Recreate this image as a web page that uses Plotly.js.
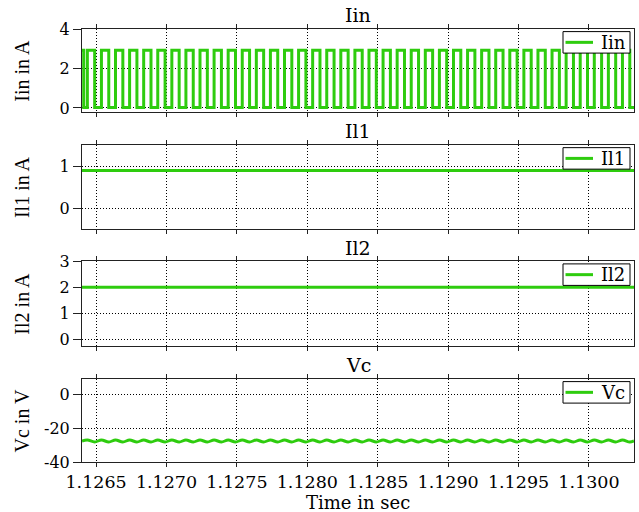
<!DOCTYPE html>
<html>
<head>
<meta charset="utf-8">
<script src="https://cdn.plot.ly/plotly-3.0.1.min.js"></script>
<style>html,body{margin:0;padding:0;background:#fff}#chart{width:639px;height:512px}</style>
</head>
<body>
<div id="chart"></div>
<script>
// ---- data ----
const timeTicks = [1.1265, 1.1270, 1.1275, 1.1280, 1.1285, 1.1290, 1.1295, 1.1300];
const timeTickLabels = ['1.1265', '1.1270', '1.1275', '1.1280', '1.1285', '1.1290', '1.1295', '1.1300'];

const iinTime = [1.12640, 1.126412,
  1.126438, 1.126490, 1.126538, 1.126590, 1.126638, 1.126690, 1.126738, 1.126790, 1.126838, 1.126890,
  1.126938, 1.126990, 1.127038, 1.127090, 1.127138, 1.127190, 1.127238, 1.127290, 1.127338, 1.127390,
  1.127438, 1.127490, 1.127538, 1.127590, 1.127638, 1.127690, 1.127738, 1.127790, 1.127838, 1.127890,
  1.127938, 1.127990, 1.128038, 1.128090, 1.128138, 1.128190, 1.128238, 1.128290, 1.128338, 1.128390,
  1.128438, 1.128490, 1.128538, 1.128590, 1.128638, 1.128690, 1.128738, 1.128790, 1.128838, 1.128890,
  1.128938, 1.128990, 1.129038, 1.129090, 1.129138, 1.129190, 1.129238, 1.129290, 1.129338, 1.129390,
  1.129438, 1.129490, 1.129538, 1.129590, 1.129638, 1.129690, 1.129738, 1.129790, 1.129838, 1.129890,
  1.129938, 1.129990, 1.130038, 1.130090, 1.130138, 1.130190, 1.130238, 1.130290,
  1.13032];
const iinValue = [2.92, 0.02,
  2.92, 0.02, 2.92, 0.02, 2.92, 0.02, 2.92, 0.02, 2.92, 0.02,
  2.92, 0.02, 2.92, 0.02, 2.92, 0.02, 2.92, 0.02, 2.92, 0.02,
  2.92, 0.02, 2.92, 0.02, 2.92, 0.02, 2.92, 0.02, 2.92, 0.02,
  2.92, 0.02, 2.92, 0.02, 2.92, 0.02, 2.92, 0.02, 2.92, 0.02,
  2.92, 0.02, 2.92, 0.02, 2.92, 0.02, 2.92, 0.02, 2.92, 0.02,
  2.92, 0.02, 2.92, 0.02, 2.92, 0.02, 2.92, 0.02, 2.92, 0.02,
  2.92, 0.02, 2.92, 0.02, 2.92, 0.02, 2.92, 0.02, 2.92, 0.02,
  2.92, 0.02, 2.92, 0.02, 2.92, 0.02, 2.92, 0.02,
  0.02];

const il1Time = [1.12640, 1.13032];
const il1Value = [0.9, 0.9];

const il2Time = [1.12640, 1.13032];
const il2Value = [2.0, 2.0];

const vcTime = [1.12640,
  1.126438, 1.126490, 1.126538, 1.126590, 1.126638, 1.126690, 1.126738, 1.126790, 1.126838, 1.126890,
  1.126938, 1.126990, 1.127038, 1.127090, 1.127138, 1.127190, 1.127238, 1.127290, 1.127338, 1.127390,
  1.127438, 1.127490, 1.127538, 1.127590, 1.127638, 1.127690, 1.127738, 1.127790, 1.127838, 1.127890,
  1.127938, 1.127990, 1.128038, 1.128090, 1.128138, 1.128190, 1.128238, 1.128290, 1.128338, 1.128390,
  1.128438, 1.128490, 1.128538, 1.128590, 1.128638, 1.128690, 1.128738, 1.128790, 1.128838, 1.128890,
  1.128938, 1.128990, 1.129038, 1.129090, 1.129138, 1.129190, 1.129238, 1.129290, 1.129338, 1.129390,
  1.129438, 1.129490, 1.129538, 1.129590, 1.129638, 1.129690, 1.129738, 1.129790, 1.129838, 1.129890,
  1.129938, 1.129990, 1.130038, 1.130090, 1.130138, 1.130190, 1.130238, 1.130290,
  1.13032];
const vcValue = [-27.6,
  -27.0, -28.2, -27.0, -28.2, -27.0, -28.2, -27.0, -28.2, -27.0, -28.2,
  -27.0, -28.2, -27.0, -28.2, -27.0, -28.2, -27.0, -28.2, -27.0, -28.2,
  -27.0, -28.2, -27.0, -28.2, -27.0, -28.2, -27.0, -28.2, -27.0, -28.2,
  -27.0, -28.2, -27.0, -28.2, -27.0, -28.2, -27.0, -28.2, -27.0, -28.2,
  -27.0, -28.2, -27.0, -28.2, -27.0, -28.2, -27.0, -28.2, -27.0, -28.2,
  -27.0, -28.2, -27.0, -28.2, -27.0, -28.2, -27.0, -28.2, -27.0, -28.2,
  -27.0, -28.2, -27.0, -28.2, -27.0, -28.2, -27.0, -28.2, -27.0, -28.2,
  -27.0, -28.2, -27.0, -28.2, -27.0, -28.2, -27.0, -28.2,
  -27.6];

const seriesNames = ['Iin', 'Il1', 'Il2', 'Vc'];
const yAxisTitles = ['Iin in A', 'Il1 in A', 'Il2 in A', 'Vc in V'];
const yTickSets = [[0, 2, 4], [0, 1], [0, 1, 2, 3], [-40, -20, 0]];
const yTickLabels = [['0', '2', '4'], ['0', '1'], ['0', '1', '2', '3'], ['-40', '-20', '0']];
const xAxisTitle = 'Time in sec';

// ---- presentation ----
const GREEN = '#2ecc0e';
const FH = 'DejaVu Serif';
const FV = 'Liberation Serif';
const xRange = [1.12640, 1.13032];
const yRanges = [[-0.22, 4], [-0.48, 1.5], [-0.25, 3], [-40, 9]];
const domains = [[0.8076, 1], [0.538, 0.732], [0.268, 0.4635], [0, 0.1917]];

// plot area in pixels: left 82, right 634, top 28.7, bottom 461.7
const PL = 82, PW = 552, PB = 461.7, PH = 433;
const px2x = p => (p - PL) / PW;
const px2y = p => (PB - p) / PH;
const topPx = d => PB - d * PH;

const xs = [iinTime, il1Time, il2Time, vcTime];
const ys = [iinValue, il1Value, il2Value, vcValue];
const lineShapes = ['hv', 'linear', 'linear', 'spline'];

const traces = [];
const layout = {
  width: 639, height: 512,
  margin: {l: 82, r: 5, t: 29, b: 50},
  paper_bgcolor: '#fff', plot_bgcolor: '#fff',
  font: {family: FH, size: 16, color: '#000'},
  annotations: [],
  shapes: [],
  showlegend: false
};

const gridStyle = {showgrid: true, gridcolor: '#000', griddash: '1px,2px', gridwidth: 1, zeroline: false};

for (let i = 0; i < 4; i++) {
  const n = i === 0 ? '' : String(i + 1);
  traces.push({
    x: xs[i], y: ys[i], name: seriesNames[i], type: 'scatter', mode: 'lines',
    xaxis: 'x' + n, yaxis: 'y' + n,
    line: {color: GREEN, width: 3, shape: lineShapes[i], smoothing: 1}
  });
  layout['xaxis' + n] = Object.assign({
    anchor: 'y' + n, domain: [0, 1], range: xRange,
    tickvals: timeTicks, ticktext: timeTickLabels,
    showticklabels: i === 3,
    ticks: 'outside', ticklen: 4, tickcolor: '#222',
    showline: true, linecolor: '#222', linewidth: 1, mirror: 'ticks',
    tickfont: {family: FH, size: 17.5, color: '#000'}
  }, gridStyle);
  layout['yaxis' + n] = Object.assign({
    anchor: 'x' + n, domain: domains[i], range: yRanges[i],
    tickvals: yTickSets[i], ticktext: yTickLabels[i],
    ticks: 'outside', ticklen: 8, tickcolor: '#222',
    showline: true, linecolor: '#222', linewidth: 1, mirror: true,
    tickfont: {family: FH, size: 16, color: '#000'}
  }, gridStyle);

  // panel title
  layout.annotations.push({
    text: seriesNames[i], xref: 'paper', yref: 'paper',
    x: 0.5, y: px2y(topPx(domains[i][1]) - 13.7), xanchor: 'center', yanchor: 'middle',
    showarrow: false, font: {family: FH, size: 19, color: '#000'}
  });
  // y axis title
  layout.annotations.push({
    text: yAxisTitles[i], xref: 'paper', yref: 'paper',
    x: px2x(22), y: (domains[i][0] + domains[i][1]) / 2,
    xanchor: 'center', yanchor: 'middle', textangle: -90,
    showarrow: false, font: {family: FV, size: 20, color: '#000'}
  });

  // legend box (top right of each panel)
  const t = topPx(domains[i][1]) + 2.6;
  const b = t + 21.5;
  const mid = (t + b) / 2;
  layout.shapes.push({
    type: 'rect', xref: 'paper', yref: 'paper', layer: 'above',
    x0: px2x(563), x1: px2x(630), y0: px2y(b), y1: px2y(t),
    fillcolor: '#fff', line: {color: '#000', width: 1}
  });
  layout.shapes.push({
    type: 'line', xref: 'paper', yref: 'paper', layer: 'above',
    x0: px2x(565.5), x1: px2x(593), y0: px2y(mid), y1: px2y(mid),
    line: {color: GREEN, width: 3}
  });
  layout.annotations.push({
    text: seriesNames[i], xref: 'paper', yref: 'paper',
    x: px2x(599), y: px2y(mid), xanchor: 'left', yanchor: 'middle',
    showarrow: false, font: {family: FH, size: 18, color: '#000'}
  });
}

// x axis title
layout.annotations.push({
  text: xAxisTitle, xref: 'paper', yref: 'paper',
  x: px2x(358), y: px2y(502), xanchor: 'center', yanchor: 'middle',
  showarrow: false, font: {family: FH, size: 18, color: '#000'}
});

Plotly.newPlot('chart', traces, layout, {displayModeBar: false, staticPlot: true});
</script>
</body>
</html>
